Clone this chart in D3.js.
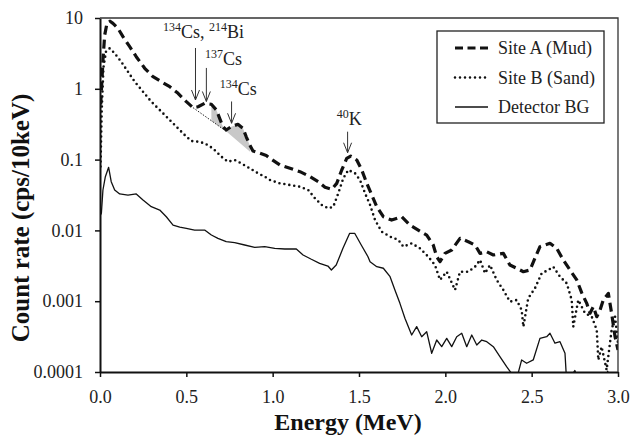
<!DOCTYPE html>
<html>
<head>
<meta charset="utf-8">
<script src="https://cdn.jsdelivr.net/npm/d3@7"></script>
<style>
  body { margin: 0; background: #fff; }
  svg { font-family: "Liberation Serif", "Times New Roman", serif; }
</style>
</head>
<body>
<div id="chart"></div>
<script>
// [energy MeV, count rate cps/10keV]
const siteA = [
  [0.004,0.6],[0.017,2.5],[0.027,5.7],[0.04,8.3],[0.058,9.0],[0.075,8.4],[0.104,7.15],[0.133,5.45],
  [0.172,3.94],[0.21,2.84],[0.259,1.95],[0.307,1.48],[0.355,1.26],[0.404,1.07],[0.452,0.863],[0.5,0.658],
  [0.539,0.541],[0.568,0.558],[0.606,0.624],[0.645,0.604],[0.674,0.502],[0.693,0.383],[0.712,0.292],
  [0.731,0.262],[0.76,0.292],[0.799,0.315],[0.828,0.277],[0.847,0.21],[0.867,0.161],[0.886,0.132],
  [0.925,0.123],[0.963,0.114],[0.985,0.104],[1.042,0.0839],[1.1,0.0754],[1.158,0.0675],[1.216,0.0574],
  [1.264,0.0488],[1.303,0.0406],[1.342,0.0381],[1.371,0.0462],[1.4,0.0713],[1.429,0.104],[1.452,0.112],
  [1.487,0.0987],[1.516,0.0713],[1.545,0.0462],[1.574,0.0316],[1.603,0.0216],[1.641,0.0156],[1.689,0.014],
  [1.747,0.0156],[1.795,0.0119],[1.843,0.0101],[1.892,0.0086],[1.93,0.00622],[1.95,0.00425],[1.969,0.00361],
  [1.998,0.00474],[2.037,0.00528],[2.085,0.00773],[2.133,0.00692],[2.172,0.00622],[2.201,0.00474],
  [2.24,0.005],[2.278,0.00449],[2.336,0.00474],[2.374,0.00324],[2.413,0.00292],[2.452,0.00261],
  [2.49,0.00276],[2.519,0.00404],[2.548,0.00589],[2.606,0.00658],[2.645,0.00558],[2.683,0.00382],
  [2.722,0.00276],[2.761,0.002],[2.79,0.00131],[2.819,0.000933],[2.838,0.000675],[2.857,0.000836],
  [2.877,0.000604],[2.896,0.000752],[2.915,0.00104],[2.944,0.00129],[2.963,0.000675],[2.983,0.000315],
  [3.0,0.000205]
];

const siteB = [
  [0.003,0.08],[0.01,0.5],[0.02,2.0],[0.035,3.4],[0.056,3.73],[0.085,3.17],[0.123,2.41],[0.162,1.74],
  [0.201,1.26],[0.249,0.91],[0.297,0.658],[0.346,0.502],[0.394,0.383],[0.442,0.292],[0.491,0.222],
  [0.529,0.183],[0.568,0.179],[0.606,0.17],[0.654,0.144],[0.703,0.11],[0.741,0.0933],[0.78,0.0987],
  [0.818,0.0885],[0.867,0.0754],[0.915,0.0641],[0.954,0.0574],[0.985,0.0515],[1.042,0.0462],[1.1,0.0438],
  [1.158,0.0414],[1.206,0.0372],[1.245,0.0284],[1.284,0.0229],[1.322,0.0205],[1.351,0.0216],[1.38,0.0334],
  [1.409,0.0544],[1.438,0.0713],[1.477,0.0641],[1.506,0.0515],[1.535,0.0334],[1.564,0.0229],[1.593,0.014],
  [1.631,0.0096],[1.68,0.00817],[1.728,0.00733],[1.757,0.00589],[1.805,0.00658],[1.853,0.00558],
  [1.901,0.00425],[1.94,0.00324],[1.969,0.002],[2.008,0.00261],[2.056,0.00144],[2.085,0.00261],
  [2.133,0.00261],[2.172,0.00307],[2.201,0.00382],[2.23,0.00248],[2.259,0.00324],[2.297,0.002],
  [2.336,0.00144],[2.374,0.000984],[2.413,0.00104],[2.442,0.000752],[2.452,0.000437],[2.48,0.0011],
  [2.519,0.00152],[2.558,0.00248],[2.596,0.00276],[2.625,0.00307],[2.664,0.00222],[2.703,0.00179],
  [2.732,0.00104],[2.741,0.000437],[2.77,0.00104],[2.809,0.000675],[2.848,0.000604],[2.877,0.000392],
  [2.886,0.000148],[2.905,0.000228],[2.934,0.000107],[2.963,0.000392],[2.983,0.000604],[3.0,0.000255]
];

const detectorBG = [
  [0.0,0.016],[0.008,0.0175],[0.017,0.0372],[0.031,0.0574],[0.05,0.0778],[0.065,0.0488],[0.085,0.0372],
  [0.114,0.0327],[0.162,0.0316],[0.21,0.0327],[0.249,0.0269],[0.297,0.0216],[0.346,0.0194],[0.384,0.0156],
  [0.423,0.0119],[0.462,0.0111],[0.5,0.0107],[0.548,0.0101],[0.606,0.0101],[0.645,0.0086],[0.683,0.00773],
  [0.731,0.00692],[0.78,0.0067],[0.838,0.00622],[0.896,0.00577],[0.954,0.00589],[1.012,0.00558],
  [1.07,0.00546],[1.137,0.00546],[1.176,0.0045],[1.224,0.00391],[1.272,0.00343],[1.32,0.00314],
  [1.34,0.00276],[1.368,0.00324],[1.407,0.00558],[1.446,0.0091],[1.475,0.0091],[1.513,0.00622],
  [1.552,0.00425],[1.564,0.00361],[1.603,0.00307],[1.641,0.00292],[1.68,0.00222],[1.708,0.00144],
  [1.737,0.000933],[1.766,0.000574],[1.805,0.000333],[1.834,0.000437],[1.863,0.000315],[1.892,0.000371],
  [1.921,0.000184],[1.95,0.000283],[1.979,0.000228],[2.008,0.000299],[2.037,0.000228],[2.066,0.000315],
  [2.095,0.000352],[2.124,0.000228],[2.153,0.000333],[2.182,0.00024],[2.211,0.000283],[2.24,0.000268],
  [2.278,0.000228],[2.317,0.000164],[2.355,0.000119],[2.384,0.000095],[2.413,0.00008],[2.442,0.000148],
  [2.471,0.000133],[2.509,0.000148],[2.548,0.000299],[2.587,0.000315],[2.606,0.000352],[2.635,0.000255],
  [2.664,0.000268],[2.693,0.000184],[2.703,0.00007],[2.75,0.000105],[2.78,0.00007],[2.93,0.00007],
  [2.94,0.000103],[2.96,0.00007],[3.0,0.00006]
];

const xTicks = [0, 0.5, 1.0, 1.5, 2.0, 2.5, 3.0];
const yTicks = [0.0001, 0.001, 0.01, 0.1, 1, 10];
const yTickLabels = ["0.0001", "0.001", "0.01", "0.1", "1", "10"];
const seriesNames = ["Site A (Mud)", "Site B (Sand)", "Detector BG"];

// peak-area baselines (under the Site A curve)
const base1 = [[0.539, 0.541], [0.734, 0.248]];
const shade1From = 0.645;
const base2 = [[0.734, 0.248], [0.869, 0.129]];

// arrows: [energy, top value, tip value]
const arrows = [[0.553, 3.77, 0.695], [0.616, 1.97, 0.662], [0.762, 0.662, 0.326], [1.434, 0.248, 0.125]];
// labels: [energy, value at baseline, superscript, text]
const peakLabels = [
  [0.365, 5.22, [["134", "Cs, "], ["214", "Bi"]]],
  [0.608, 2.17, [["137", "Cs"]]],
  [0.693, 0.818, [["134", "Cs"]]],
  [1.371, 0.308, [["40", "K"]]]
];

const width = 630, height = 437;
const margin = { top: 18, right: 12, bottom: 65, left: 100 };
const serif = "'Liberation Serif', 'Times New Roman', serif";

const svg = d3.select("#chart").append("svg")
  .attr("width", width)
  .attr("height", height)
  .attr("font-family", serif);

const x = d3.scaleLinear().domain([0, 3]).range([margin.left, width - margin.right]);
const y = d3.scaleLog().domain([1e-4, 10]).range([height - margin.bottom, margin.top]);

svg.append("clipPath").attr("id", "plot")
  .append("rect")
  .attr("x", x(0)).attr("y", y(10))
  .attr("width", x(3) - x(0)).attr("height", y(1e-4) - y(10));

const line = d3.line().x(d => x(d[0])).y(d => y(d[1]));

// log-linear value of a baseline at energy e
function baseAt(b, e) {
  const t = (e - b[0][0]) / (b[1][0] - b[0][0]);
  return Math.pow(10, Math.log10(b[0][1]) + t * (Math.log10(b[1][1]) - Math.log10(b[0][1])));
}
function shadePoly(b, e0) {
  const e1 = b[1][0];
  const top = siteA.filter(d => d[0] > e0 && d[0] < e1);
  const interp = e => {
    const i = siteA.findIndex(d => d[0] >= e);
    const a = siteA[i - 1], c = siteA[i];
    const t = (e - a[0]) / (c[0] - a[0]);
    return Math.pow(10, Math.log10(a[1]) + t * (Math.log10(c[1]) - Math.log10(a[1])));
  };
  return [[e0, interp(e0)], ...top, [e1, b[1][1]], [e0, baseAt(b, e0)]];
}

const g = svg.append("g").attr("clip-path", "url(#plot)");

g.append("path").datum(shadePoly(base1, shade1From))
  .attr("d", line).attr("fill", "#c8c8c8");
g.append("path").datum(shadePoly(base2, base2[0][0]))
  .attr("d", line).attr("fill", "#c8c8c8");

g.append("path").datum(base1)
  .attr("d", line).attr("fill", "none").attr("stroke", "#222")
  .attr("stroke-width", 1).attr("stroke-dasharray", "1.5,1.5");

const styles = [
  { w: 3.2, dash: "9,5", cap: "butt" },
  { w: 2.6, dash: "0,5", cap: "round" },
  { w: 1.3, dash: null, cap: "butt" }
];

[detectorBG, siteB, siteA].forEach((s, k) => {
  const st = styles[2 - k];
  g.append("path").datum(s)
    .attr("d", line)
    .attr("fill", "none")
    .attr("stroke", "#111")
    .attr("stroke-width", st.w)
    .attr("stroke-dasharray", st.dash)
    .attr("stroke-linecap", st.cap)
    .attr("stroke-linejoin", "round");
});

// axes
const xAxis = svg.append("g")
  .attr("transform", `translate(0,${y(1e-4)})`)
  .call(d3.axisBottom(x).tickValues(xTicks).tickFormat(d3.format(".1f")).tickSize(5).tickSizeOuter(0).tickPadding(13));
const yAxis = svg.append("g")
  .attr("transform", `translate(${x(0)},0)`)
  .call(d3.axisLeft(y).tickValues(yTicks).tickFormat((d, i) => yTickLabels[i]).tickSize(5).tickSizeOuter(0).tickPadding(12));

[xAxis, yAxis].forEach(a => {
  a.attr("font-family", serif);
  a.select(".domain").attr("stroke", "#111").attr("stroke-width", 2);
  a.selectAll(".tick line").attr("stroke", "#111").attr("stroke-width", 1.5);
  a.selectAll(".tick text").attr("fill", "#222").style("font-size", "18px")
    .style("font-family", serif);
});

// top and right frame
svg.append("path")
  .attr("d", `M${x(0)},${y(10)}H${x(3)}V${y(1e-4)}`)
  .attr("fill", "none").attr("stroke", "#333").attr("stroke-width", 1.3);

svg.append("text")
  .attr("x", 348)
  .attr("y", 430)
  .attr("text-anchor", "middle")
  .attr("font-size", 24).attr("font-weight", "bold").attr("fill", "#111")
  .text("Energy (MeV)");

svg.append("text")
  .attr("transform", "translate(29,218) rotate(-90)")
  .attr("text-anchor", "middle")
  .attr("font-size", 25).attr("font-weight", "bold").attr("fill", "#111")
  .text("Count rate (cps/10keV)");

// arrows
arrows.forEach(a => {
  const ax = x(a[0]), y0 = y(a[1]), y1 = y(a[2]);
  svg.append("path")
    .attr("d", `M${ax},${y0}V${y1}M${ax - 4},${y1 - 10}L${ax},${y1}L${ax + 4},${y1 - 10}`)
    .attr("fill", "none").attr("stroke", "#333").attr("stroke-width", 1);
});

peakLabels.forEach(l => {
  const t = svg.append("text")
    .attr("x", x(l[0])).attr("y", y(l[1]))
    .attr("fill", "#222").attr("font-size", 18);
  l[2].forEach(p => {
    t.append("tspan").attr("font-size", 12).attr("dy", -7).text(p[0]);
    t.append("tspan").attr("dy", 7).text(p[1]);
  });
});

// legend
const lg = svg.append("g").attr("transform", "translate(437,31)");
lg.append("rect").attr("width", 167).attr("height", 92)
  .attr("fill", "#fff").attr("stroke", "#222").attr("stroke-width", 1.3);
seriesNames.forEach((n, i) => {
  const ly = 17 + i * 29.5;
  const st = styles[i];
  lg.append("line")
    .attr("x1", 18).attr("x2", 51).attr("y1", ly).attr("y2", ly)
    .attr("stroke", "#111").attr("stroke-width", st.w)
    .attr("stroke-dasharray", i === 0 ? "8,4.5" : st.dash)
    .attr("stroke-linecap", st.cap);
  lg.append("text")
    .attr("x", 61).attr("y", ly + 6)
    .attr("font-size", 18).attr("fill", "#222")
    .text(n);
});
</script>
</body>
</html>
